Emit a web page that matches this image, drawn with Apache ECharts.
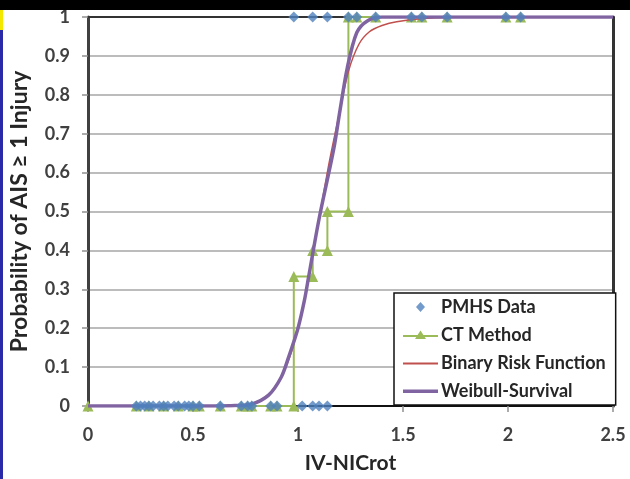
<!DOCTYPE html>
<html>
<head>
<meta charset="utf-8">
<script src="https://cdn.jsdelivr.net/npm/echarts@6/dist/echarts.min.js"></script>
<style>
html,body{margin:0;padding:0;background:#fff;}
#c{width:630px;height:479px;}
</style>
</head>
<body>
<div id="c"></div>
<script>
// Tick labels
const xTicks = [0, 0.5, 1, 1.5, 2, 2.5];
const yTicks = [0, 0.1, 0.2, 0.3, 0.4, 0.5, 0.6, 0.7, 0.8, 0.9, 1];

// PMHS Data (observed outcomes)
const pmhsX0 = [0.23, 0.25, 0.27, 0.29, 0.31, 0.34, 0.36, 0.38, 0.41, 0.43, 0.46, 0.48, 0.50, 0.53, 0.63, 0.73, 0.76, 0.78, 0.87, 0.90, 1.02, 1.07, 1.10, 1.14];
const pmhsX1 = [0.98, 1.07, 1.14, 1.24, 1.28, 1.37, 1.54, 1.59, 1.71, 1.99, 2.06];

// CT Method (step estimate)
const ctX = [0, 0.23, 0.29, 0.36, 0.43, 0.50, 0.53, 0.63, 0.73, 0.76, 0.78, 0.87, 0.90, 0.98, 0.98, 1.07, 1.07, 1.14, 1.14, 1.24, 1.24, 1.28, 1.37, 1.54, 1.59, 1.71, 1.99, 2.06];
const ctY = [0, 0, 0, 0, 0, 0, 0, 0, 0, 0, 0, 0, 0, 0, 0.333, 0.333, 0.4, 0.4, 0.5, 0.5, 1, 1, 1, 1, 1, 1, 1, 1];

// Binary Risk Function
const brfX = [0, 0.6, 0.7, 0.78, 0.86, 0.92, 0.96, 1.0, 1.03, 1.05, 1.1, 1.15, 1.2, 1.24, 1.29, 1.34, 1.4, 1.47, 1.6, 1.8, 2.5];
const brfY = [0, 0, 0.002, 0.006, 0.03, 0.075, 0.125, 0.2, 0.27, 0.33, 0.48, 0.63, 0.76, 0.86, 0.93, 0.962, 0.978, 0.988, 0.996, 1, 1];

// Weibull-Survival
const wbX = [0, 0.6, 0.7, 0.78, 0.86, 0.92, 0.955, 1.0, 1.03, 1.05, 1.1, 1.17, 1.2, 1.235, 1.28, 1.33, 1.4, 2.5];
const wbY = [0, 0, 0.001, 0.005, 0.028, 0.074, 0.125, 0.2, 0.27, 0.33, 0.48, 0.66, 0.76, 0.87, 0.96, 0.99, 1, 1];

const zip = (xs, ys) => xs.map((x, i) => [x, ys[i]]);
const pmhsData = pmhsX0.map(x => [x, 0]).concat(pmhsX1.map(x => [x, 1]));

const FONT = 'Lato, "Liberation Sans", sans-serif';
const ICON_DIAMOND = 'path://M0,7L0.01,7L0,7.01Z M17.5,2L22,7L17.5,12L13,7Z M35,7L34.99,7L35,7.01Z';
const ICON_LINE_TRI = 'path://M0,0L0.01,0L0,0.01Z M0,7L14.6,7L17.5,2.5L20.4,7L35,7L35,9L21.7,9L23,11L12,11L13.3,9L0,9Z M0,14L0.01,14L0,13.99Z';
const ICON_LINE = 'path://M0,0L0.01,0L0,0.01Z M0,6.5L35,6.5L35,8.5L0,8.5Z M0,14L0.01,14L0,13.99Z';
const ICON_LINE_THICK = 'path://M0,0L0.01,0L0,0.01Z M0,5.5L35,5.5L35,9L0,9Z M0,14L0.01,14L0,13.99Z';

const chart = echarts.init(document.getElementById('c'), null, {renderer: 'canvas'});

chart.setOption({
  backgroundColor: '#ffffff',
  animation: false,
  graphic: [
    {type: 'rect', left: 0, top: 0, shape: {width: 630, height: 10}, style: {fill: '#000000'}, z: 100},
    {type: 'rect', left: 0, top: 10, shape: {width: 3, height: 20}, style: {fill: '#f2e800'}, z: 100},
    {type: 'rect', left: 0, top: 30, shape: {width: 3, height: 449}, style: {fill: '#2a2aa8'}, z: 100}
  ],
  grid: {left: 85, right: 17, top: 17, bottom: 70, containLabel: false},
  legend: {
    orient: 'vertical',
    left: 394, top: 293,
    data: [
      {name: 'PMHS Data', icon: ICON_DIAMOND},
      {name: 'CT Method', icon: ICON_LINE_TRI},
      {name: 'Binary Risk Function', icon: ICON_LINE},
      {name: 'Weibull-Survival', icon: ICON_LINE_THICK}
    ],
    backgroundColor: '#ffffff',
    borderColor: '#111111',
    borderWidth: 1.5,
    padding: [5, 10, 5, 9],
    itemWidth: 35, itemHeight: 14, itemGap: 10,
    textStyle: {fontFamily: FONT, fontSize: 18, fontWeight: 'bold', color: '#262626', padding: [0, 0, 0, -2]},
    z: 20
  },
  xAxis: [{
    type: 'value',
    min: xTicks[0], max: xTicks[xTicks.length - 1], interval: xTicks[1] - xTicks[0],
    name: 'IV-NICrot', nameLocation: 'middle', nameGap: 47,
    nameTextStyle: {fontFamily: FONT, fontSize: 21, fontWeight: 'bold', color: '#262626'},
    axisLine: {show: true, onZero: false, lineStyle: {color: '#111111', width: 2}},
    axisTick: {show: true, length: 6, inside: false, lineStyle: {color: '#909090', width: 1.5}},
    axisLabel: {margin: 20, fontFamily: FONT, fontSize: 18, fontWeight: 'bold', color: '#404040'},
    splitLine: {show: false}
  }, {
    type: 'value', position: 'top',
    min: xTicks[0], max: xTicks[xTicks.length - 1],
    axisLine: {show: true, onZero: false, lineStyle: {color: '#333333', width: 2}},
    axisTick: {show: false}, axisLabel: {show: false}, splitLine: {show: false}
  }],
  yAxis: [{
    type: 'value',
    min: yTicks[0], max: yTicks[yTicks.length - 1], interval: 0.1,
    name: 'Probability of AIS \u2265 1 Injury', nameLocation: 'middle', nameGap: 57,
    nameTextStyle: {fontFamily: FONT, fontSize: 23, fontWeight: 'bold', color: '#262626'},
    axisLine: {show: true, onZero: false, lineStyle: {color: '#404040', width: 3}},
    axisTick: {show: true, length: 6, lineStyle: {color: '#909090', width: 1.5}},
    axisLabel: {margin: 18, fontFamily: FONT, fontSize: 18, fontWeight: 'bold', color: '#404040'},
    splitLine: {show: true, lineStyle: {color: '#a6a6a6', width: 1.5}}
  }, {
    type: 'value', position: 'right',
    min: yTicks[0], max: yTicks[yTicks.length - 1],
    axisLine: {show: true, onZero: false, lineStyle: {color: '#333333', width: 3}},
    axisTick: {show: false}, axisLabel: {show: false}, splitLine: {show: false}
  }],
  series: [
    {
      name: 'PMHS Data', type: 'scatter', data: pmhsData,
      symbol: 'diamond', symbolSize: 11,
      itemStyle: {color: '#4f81bd'}, z: 6
    },
    {
      name: 'CT Method', type: 'line', data: zip(ctX, ctY),
      symbol: 'triangle', symbolSize: 11, showAllSymbol: true,
      lineStyle: {color: '#9bbb59', width: 2}, itemStyle: {color: '#9bbb59'}, z: 3
    },
    {
      name: 'Binary Risk Function', type: 'line', data: zip(brfX, brfY),
      smooth: 0.3, symbol: 'none',
      lineStyle: {color: '#c0504d', width: 1.5}, itemStyle: {color: '#c0504d'}, z: 4
    },
    {
      name: 'Weibull-Survival', type: 'line', data: zip(wbX, wbY),
      smooth: 0.3, symbol: 'none',
      lineStyle: {color: '#8064a2', width: 3.5}, itemStyle: {color: '#8064a2'}, z: 5
    }
  ]
});
</script>
</body>
</html>
